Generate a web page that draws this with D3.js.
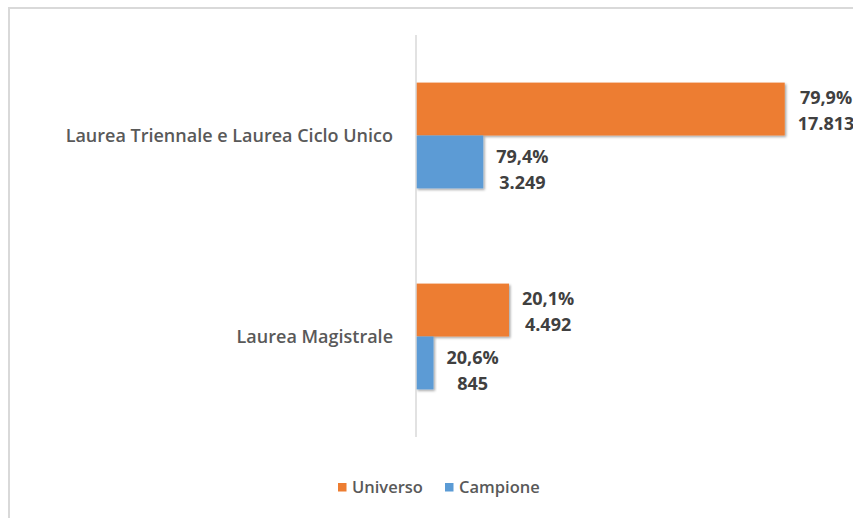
<!DOCTYPE html>
<html>
<head>
<meta charset="utf-8">
<script src="https://cdn.jsdelivr.net/npm/d3@7"></script>
<style>
  body { margin: 0; background: #fff; }
  text { font-family: "Open Sans", "Liberation Sans", sans-serif; }
</style>
</head>
<body>
<div id="chart"></div>
<script>
// data
var categories = ["Laurea Triennale e Laurea Ciclo Unico", "Laurea Magistrale"];
var seriesNames = ["Universo", "Campione"];
var universoCount = [17813, 4492];
var universoPct = ["79,9%", "20,1%"];
var campioneCount = [3249, 845];
var campionePct = ["79,4%", "20,6%"];

var colors = { "Universo": "#ED7D31", "Campione": "#5B9BD5" };

const width = 853, height = 518;

var svg = d3.select("#chart").append("svg")
    .attr("width", width)
    .attr("height", height);

// soft drop shadow like the office chart
var defs = svg.append("defs");
var f = defs.append("filter").attr("id", "shadow")
    .attr("x", "-5%").attr("y", "-10%").attr("width", "120%").attr("height", "130%");
f.append("feDropShadow")
    .attr("dx", 1.5).attr("dy", 1.5).attr("stdDeviation", 1.2)
    .attr("flood-color", "#000").attr("flood-opacity", 0.35);

// chart frame (only top and left edges show in the crop)
svg.append("rect")
    .attr("x", 9).attr("y", 8)
    .attr("width", 900).attr("height", 600)
    .attr("fill", "none")
    .attr("stroke", "#d9d9d9")
    .attr("stroke-width", 2);

var x = d3.scaleLinear().domain([0, 20000]).range([416, 830]);

var y = d3.scaleBand().domain(categories).range([35, 437]).paddingInner(0).paddingOuter(0);

var inner = d3.scaleBand().domain(seriesNames)
    .range([0, y.bandwidth()]).paddingInner(0).paddingOuter(0.9);

var rows = [];
categories.forEach(function(c, i) {
    rows.push({ cat: c, series: "Universo", value: universoCount[i], pct: universoPct[i] });
    rows.push({ cat: c, series: "Campione", value: campioneCount[i], pct: campionePct[i] });
});

var fmt = d3.formatLocale({ decimal: ",", thousands: ".", grouping: [3], currency: ["", "€"] }).format(",d");

svg.append("g").selectAll("rect")
    .data(rows)
    .enter()
    .append("rect")
    .attr("x", x(0))
    .attr("y", d => y(d.cat) + inner(d.series))
    .attr("width", d => x(d.value) - x(0))
    .attr("height", inner.bandwidth())
    .attr("fill", d => colors[d.series])
    .attr("filter", "url(#shadow)");

// vertical category axis
svg.append("line")
    .attr("x1", x(0)).attr("x2", x(0))
    .attr("y1", 35).attr("y2", 437)
    .attr("stroke", "#d9d9d9")
    .attr("stroke-width", 1.5);

svg.append("g").selectAll("text")
    .data(categories)
    .enter()
    .append("text")
    .attr("x", 393)
    .attr("y", d => y(d) + y.bandwidth() / 2)
    .attr("dy", "0.35em")
    .attr("text-anchor", "end")
    .attr("font-size", 18)
    .attr("font-weight", 600)
    .attr("fill", "#595959")
    .text(d => d);

// data labels: percent on top, count below, centred on each other
var labelG = svg.append("g").selectAll("g")
    .data(rows)
    .enter()
    .append("g");

labelG.each(function(d) {
    var g = d3.select(this);
    var cy = y(d.cat) + inner(d.series) + inner.bandwidth() / 2 + (d.series === "Campione" ? 7.5 : 2);
    var t1 = g.append("text")
        .attr("y", cy - 13).attr("dy", "0.35em")
        .attr("text-anchor", "middle")
        .attr("font-size", 18).attr("font-weight", 700)
        .attr("fill", "#404040")
        .text(d.pct);
    var t2 = g.append("text")
        .attr("y", cy + 13).attr("dy", "0.35em")
        .attr("text-anchor", "middle")
        .attr("font-size", 18).attr("font-weight", 700)
        .attr("fill", "#404040")
        .text(fmt(d.value));
    var w = Math.max(t1.node().getComputedTextLength(), t2.node().getComputedTextLength());
    var cx = x(d.value) + 13 + w / 2;
    t1.attr("x", cx);
    t2.attr("x", cx);
});

// legend
var legend = svg.append("g");
var legX = [338, 445];
seriesNames.forEach(function(s, i) {
    legend.append("rect")
        .attr("x", legX[i]).attr("y", 483)
        .attr("width", 8.5).attr("height", 8.5)
        .attr("fill", colors[s]);
    legend.append("text")
        .attr("x", legX[i] + 14).attr("y", 487)
        .attr("dy", "0.35em")
        .attr("font-size", 16.5)
        .attr("font-weight", 600)
        .attr("fill", "#595959")
        .text(s);
});
</script>
</body>
</html>
